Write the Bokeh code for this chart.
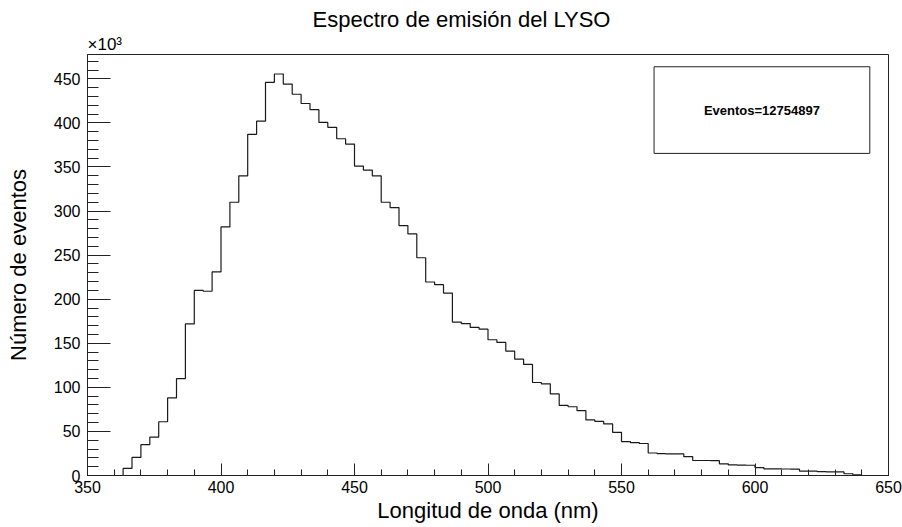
import numpy as np
from bokeh.plotting import figure
from bokeh.models import Range1d, SingleIntervalTicker, Label, BoxAnnotation, Title
from bokeh.embed import file_html
from bokeh.resources import INLINE

# ---- data ----
x_start = 350
x_end = 650
n_bins = 90
# counts per bin in thousands (x10^3)
counts_k = [0, 0, 0, 0, 8, 20.5, 35, 43.5, 61, 88,
            110, 172, 210, 209, 231, 282, 310, 340, 387, 402,
            446, 455.5, 444, 432.5, 422, 415, 400.5, 395, 382, 376,
            351, 346.5, 340, 310, 304, 283.5, 274, 247, 219.5, 216.5,
            207, 174, 172.3, 168, 166, 154, 151, 141, 132, 126,
            105.5, 104, 92.5, 79.5, 78, 73.5, 63, 61.5, 58.5, 49,
            38.5, 37.4, 36.3, 25.5, 24.8, 24.6, 24.5, 21.3, 17, 17,
            16.8, 13.2, 12, 11.8, 11.6, 9, 7.6, 7.5, 7.4, 7.2,
            5, 4.9, 4.3, 4.2, 4.1, 2, 0.6, 0, 0, 0]
y_max = 477.6
title_text = "Espectro de emisión del LYSO"
x_label = "Longitud de onda (nm)"
y_label = "Número de eventos"
stats_text = "Eventos=12754897"
exp_text = "×10³"

FONT = "Liberation Sans"

edges = np.linspace(x_start, x_end, n_bins + 1)

p = figure(width=902, height=527, output_backend="svg", toolbar_location=None,
           x_range=Range1d(x_start, x_end), y_range=Range1d(0, y_max),
           min_border_left=87, min_border_right=14, min_border_top=54,
           min_border_bottom=52, background_fill_color="white",
           border_fill_color="white")
p.grid.visible = False
p.outline_line_color = "#222222"
p.outline_line_width = 1

p.step(x=edges, y=list(counts_k) + [counts_k[-1]], mode="after",
       line_color="#1a1a1a", line_width=1.2)

# multiplier (closest to the frame)
exp_title = Title(text=exp_text, align="left", offset=0, standoff=1)
exp_title.text_font = FONT
exp_title.text_font_size = "17px"
exp_title.text_font_style = "normal"
exp_title.text_color = "black"
p.add_layout(exp_title, "above")

# main title
p.title.text = title_text
p.title.align = "left"
p.title.offset = 225
p.title.text_font = FONT
p.title.text_font_size = "22px"
p.title.text_font_style = "normal"
p.title.text_color = "black"
p.title.standoff = 2

for ax in (p.xaxis[0], p.yaxis[0]):
    ax.ticker = SingleIntervalTicker(interval=50, num_minor_ticks=5)
    ax.axis_line_color = "#222222"
    ax.major_tick_line_color = "#222222"
    ax.minor_tick_line_color = "#222222"
    ax.major_tick_out = 0
    ax.minor_tick_out = 0
    ax.major_label_text_font = FONT
    ax.major_label_text_font_size = "16px"
    ax.major_label_text_color = "black"
    ax.axis_label_text_font = FONT
    ax.axis_label_text_font_size = "22px"
    ax.axis_label_text_font_style = "normal"
    ax.axis_label_text_color = "black"

p.xaxis[0].major_label_standoff = 5
p.yaxis[0].major_label_standoff = 7
p.xaxis[0].major_tick_in = 12
p.xaxis[0].minor_tick_in = 6
p.yaxis[0].major_tick_in = 23
p.yaxis[0].minor_tick_in = 11
p.xaxis[0].axis_label = x_label
p.yaxis[0].axis_label = y_label
p.xaxis[0].axis_label_standoff = 2
p.yaxis[0].axis_label_standoff = 20

# stats box
p.add_layout(BoxAnnotation(left=562.2, right=643.0, bottom=365.4, top=463.7,
                           fill_color="white", fill_alpha=1.0,
                           line_color="#222222", line_alpha=1.0, line_width=1))
p.add_layout(Label(x=602.6, y=414.5, text=stats_text,
                   text_font=FONT, text_font_size="13px", text_font_style="bold",
                   text_align="center", text_baseline="middle", text_color="black"))

open("out.html", "w").write(file_html(p, INLINE))
